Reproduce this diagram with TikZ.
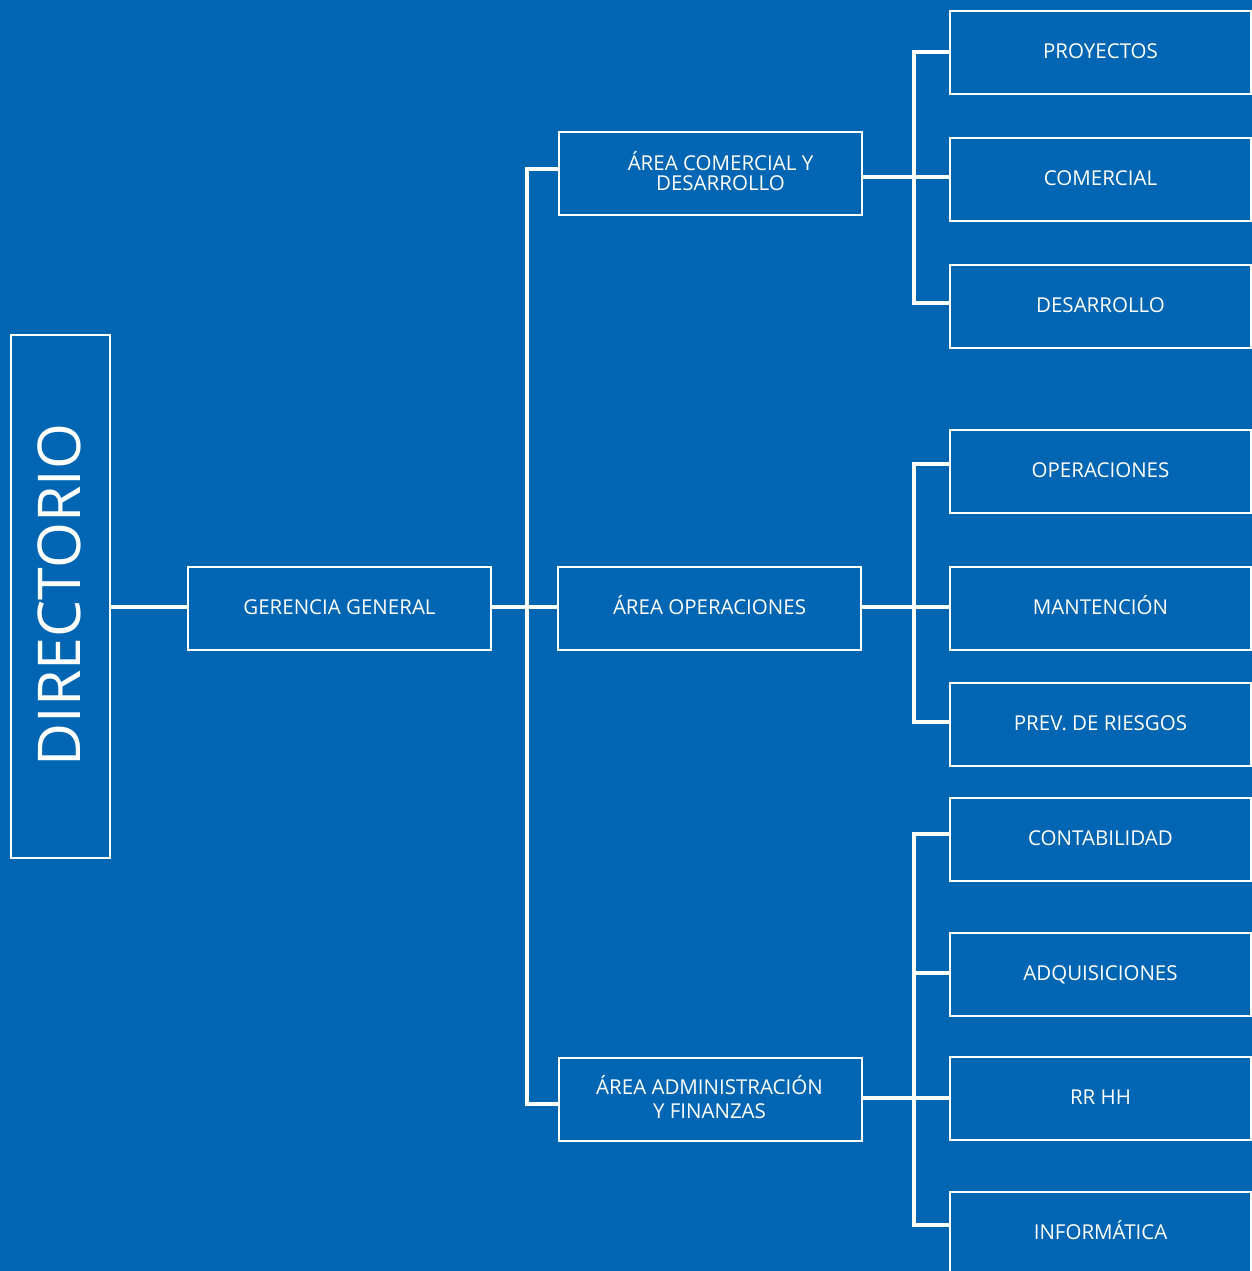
\documentclass[tikz,border=0pt]{standalone}
\usepackage{fontspec}
\setmainfont{Open Sans}
\definecolor{bgblue}{HTML}{0066B3}
\begin{document}
\begin{tikzpicture}[x=1pt,y=-1pt,
  box/.style={draw=white,line width=2pt,fill=bgblue,text=white,minimum width=303pt,minimum height=83pt,inner sep=0pt,outer sep=0pt,align=center,font=\fontsize{20.5}{21}\selectfont},
  single/.style={text height=15pt,text depth=3pt},
  rbox/.style={box,single,minimum width=301pt},
  lbl/.style={text=white,inner sep=0pt,align=center},
  conn/.style={draw=white,line width=4pt,line join=miter}]
\useasboundingbox[fill=bgblue] (0,0) rectangle (1252,1271);
% nodes
\node[box,minimum width=99pt,minimum height=523pt] (dir) at (60.5,596.5) {};
\node[lbl,rotate=90,font=\fontsize{59}{60}\selectfont] (dirt) at (59.5,595) {DIRECTORIO};
\node[box,single] (gg) at (339.5,608.5) {GERENCIA GENERAL};
\node[box] (ac) at (710.5,173.5) {};
\node[lbl,font=\fontsize{20.5}{19.5}\selectfont] (act) at (720.5,171) {ÁREA COMERCIAL Y\\DESARROLLO};
\node[box,single] (ao) at (709.5,608.5) {ÁREA OPERACIONES};
\node[box] (ad) at (710.5,1099.5) {};
\node[lbl,font=\fontsize{20.5}{24}\selectfont] (adt) at (709.5,1097.5) {ÁREA ADMINISTRACIÓN\\Y FINANZAS};
\node[rbox] (pro) at (1100.5,52.5) {PROYECTOS};
\node[rbox] (com) at (1100.5,179.5) {COMERCIAL};
\node[rbox] (des) at (1100.5,306.5) {DESARROLLO};
\node[rbox] (ope) at (1100.5,471.5) {OPERACIONES};
\node[rbox] (man) at (1100.5,608.5) {MANTENCIÓN};
\node[rbox] (pre) at (1100.5,724.5) {PREV. DE RIESGOS};
\node[rbox] (con) at (1100.5,839.5) {CONTABILIDAD};
\node[rbox] (adq) at (1100.5,974.5) {ADQUISICIONES};
\node[rbox] (rrh) at (1100.5,1098.5) {RR HH};
\node[rbox] (inf) at (1100.5,1233.5) {INFORMÁTICA};
\coordinate (tA) at (527,0);
\coordinate (tB) at (914,0);
% connectors
\draw[conn] ([yshift=1.5pt]gg.west) -- ([yshift=1.5pt]gg.west -| dir.east);
\draw[conn] ([yshift=1.5pt]gg.east) -- ([yshift=1.5pt]ao.west);
\draw[conn] ([yshift=4.5pt]ac.west) -| ([yshift=-4.5pt]ad.west -| tA) -- ([yshift=-4.5pt]ad.west);
% group 1
\draw[conn] ([yshift=0.5pt]pro.west) -| ([yshift=3.5pt]des.west -| tB) -- ([yshift=3.5pt]des.west);
\draw[conn] ([yshift=-3pt]ac.east) -- ([yshift=-3pt]ac.east -| com.west);
% group 2
\draw[conn] ([yshift=7.5pt]ope.west) -| ([yshift=3pt]pre.west -| tB) -- ([yshift=3pt]pre.west);
\draw[conn] ([yshift=1.5pt]ao.east) -- ([yshift=1.5pt]man.west);
% group 3
\draw[conn] ([yshift=5.5pt]con.west) -| ([yshift=8.5pt]inf.west -| tB) -- ([yshift=8.5pt]inf.west);
\draw[conn] ([yshift=1.5pt]adq.west) -- ([yshift=1.5pt]adq.west -| tB);
\draw[conn] ([yshift=1.5pt]ad.east) -- ([yshift=1.5pt]ad.east -| rrh.west);
\end{tikzpicture}
\end{document}
